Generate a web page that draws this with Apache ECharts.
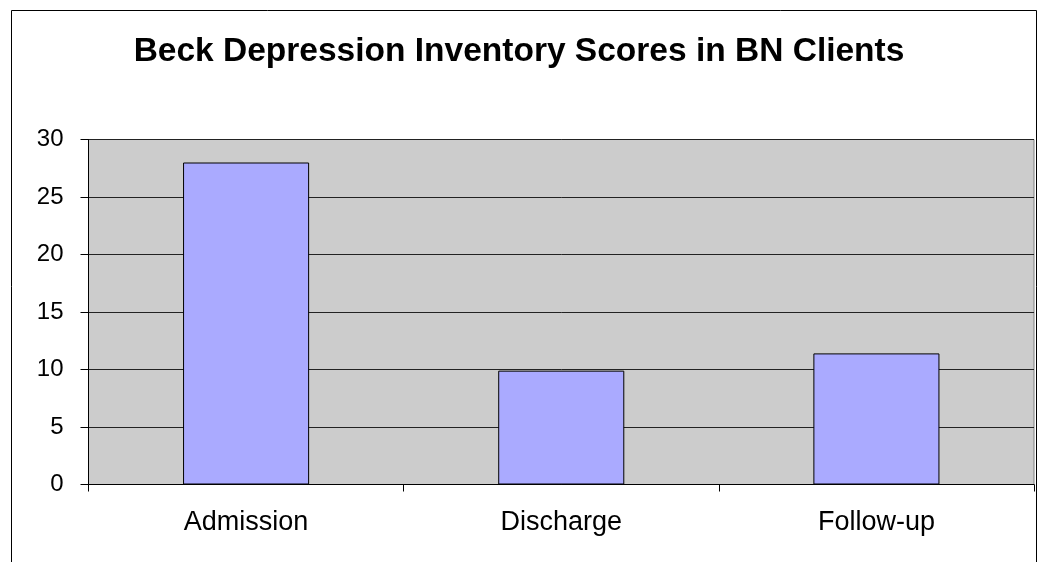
<!DOCTYPE html>
<html>
<head>
<meta charset="utf-8">
<script src="https://cdn.jsdelivr.net/npm/echarts@6/dist/echarts.min.js"></script>
<style>
  html, body { margin: 0; padding: 0; background: #fff; }
  #chart { width: 1038px; height: 562px; }
</style>
</head>
<body>
<div id="chart"></div>
<script>
// data
var categories = ['Admission', 'Discharge', 'Follow-up'];
var scores = [28, 9.9, 11.4];
var yTicks = { min: 0, max: 30, step: 5 };

var myChart = echarts.init(document.getElementById('chart'));
var options = {
    backgroundColor: '#ffffff',
    animation: false,
    title: {
        text: 'Beck Depression Inventory Scores in BN Clients',
        left: 'center',
        top: 30,
        textStyle: {
            fontFamily: 'Liberation Sans, Arial, sans-serif',
            fontSize: 33.5,
            fontWeight: 'bold',
            color: '#000'
        }
    },
    graphic: [
        {   // outer chart frame, bottom runs off the page
            type: 'rect',
            shape: { x: 11.5, y: 10.5, width: 1025, height: 600 },
            style: { fill: null, stroke: '#000', lineWidth: 1 },
            silent: true
        }
    ],
    grid: {
        left: 88.5,
        top: 139.5,
        right: 4,
        bottom: 77.5,
        show: true,
        backgroundColor: '#cccccc',
        borderColor: '#808080',
        borderWidth: 1
    },
    xAxis: {
        type: 'category',
        data: categories,
        axisLine: { lineStyle: { color: '#000', width: 1 } },
        axisTick: { show: true, length: 7, lineStyle: { color: '#000' } },
        axisLabel: {
            color: '#000',
            fontFamily: 'Liberation Sans, Arial, sans-serif',
            fontSize: 27,
            margin: 25
        }
    },
    yAxis: {
        type: 'value',
        min: yTicks.min,
        max: yTicks.max,
        interval: yTicks.step,
        axisLine: { show: true, lineStyle: { color: '#000', width: 1 } },
        axisTick: { show: true, length: 8, lineStyle: { color: '#000' } },
        splitLine: { lineStyle: { color: '#222', width: 1 } },
        axisLabel: {
            color: '#000',
            fontFamily: 'Liberation Sans, Arial, sans-serif',
            fontSize: 24,
            margin: 25
        }
    },
    series: [
        {
            type: 'bar',
            data: scores,
            barWidth: '40%',
            itemStyle: {
                color: '#aaaaff',
                borderColor: '#000',
                borderWidth: 1
            }
        }
    ]
};
myChart.setOption(options);
</script>
</body>
</html>
